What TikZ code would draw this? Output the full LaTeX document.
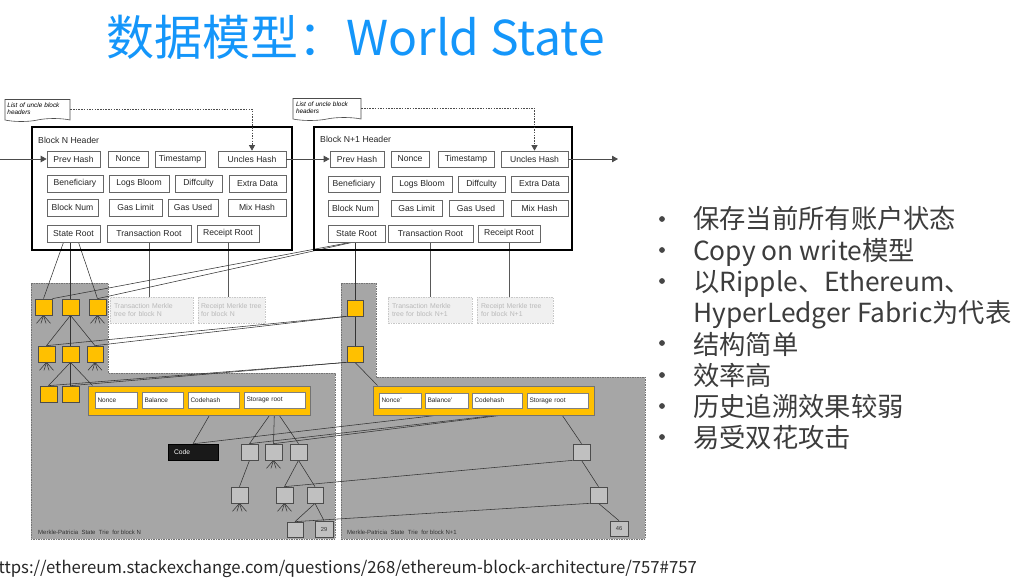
\documentclass[tikz,border=0pt]{standalone}
\usepackage{fontspec}
\setmainfont{Liberation Sans}
\newfontfamily\cjk{Noto Sans CJK SC}
\usetikzlibrary{shapes.symbols,arrows.meta,backgrounds}
\definecolor{titleblue}{RGB}{20,150,250}
\definecolor{txtgray}{RGB}{60,60,60}
\definecolor{bulgray}{RGB}{70,70,70}
\definecolor{ygold}{RGB}{255,192,0}
\definecolor{regiongray}{RGB}{166,166,166}
\definecolor{nodegray}{RGB}{192,192,192}
\definecolor{ghost}{RGB}{240,240,240}
\definecolor{ghostline}{RGB}{200,200,200}
\definecolor{ghosttxt}{RGB}{185,185,185}
\newcommand\bx[7]{\node[#1, minimum width={(#5)-(#3)}, minimum height={(#6)-(#4)}] (#2) at ({((#3)+(#5))/2},{((#4)+(#6))/2}) {#7};}
\newcommand\stubs[1]{\foreach \dx in {-7,-2.5,2.5,7}{\draw[conn] (#1.south) -- ++(\dx,8);}}
\begin{document}
\begin{tikzpicture}[x=1pt,y=-1pt,
  field/.style={draw=black!60, fill=white, line width=0.7pt, inner sep=0pt, text=black!85, font=\fontsize{8.6}{9}\selectfont},
  hdrbox/.style={draw=black, line width=1.6pt, inner sep=0pt},
  hdrlabel/.style={anchor=west, inner sep=0pt, text=black!85, font=\fontsize{8.7}{10}\selectfont},
  ynode/.style={draw=black!70, fill=ygold, line width=0.7pt, inner sep=0pt},
  gnode/.style={draw=black!70, fill=nodegray, line width=0.7pt, inner sep=0pt, text=black!80, font=\fontsize{5.8}{6}\selectfont},
  acctbox/.style={draw=black!55, fill=ygold, line width=1pt, inner sep=0pt},
  afield/.style={draw=black!50, fill=white, line width=0.6pt, inner sep=0pt, align=left, text=black!85, font=\fontsize{6.5}{7}\selectfont},
  codebox/.style={draw=black, fill=black!90, inner sep=0pt, align=left, text=white, font=\fontsize{6.7}{7}\selectfont},
  ghostbox/.style={draw=ghostline, dash pattern=on 1.5pt off 1pt, fill=ghost, inner sep=0pt, align=left, text=ghosttxt, font=\fontsize{6.9}{8.2}\selectfont},
  notebox/.style={tape, tape bend top=none, tape bend height=3pt, draw=black!70, fill=white, line width=0.6pt, inner sep=0pt, align=left, font=\itshape\fontsize{6.4}{7.4}\selectfont},
  conn/.style={draw=black!80, line width=0.55pt},
  gline/.style={draw=black!65, line width=0.8pt},
  region/.style={fill=regiongray, draw=black!55, dash pattern=on 1.5pt off 1pt, line width=0.7pt},
  arr/.style={draw=black!70, line width=0.8pt, -{Triangle[length=6pt,width=6.5pt]}},
  dline/.style={draw=black!70, line width=0.7pt, dash pattern=on 1.5pt off 1.2pt, -{Triangle[length=5.5pt,width=6pt]}},
  lbl/.style={anchor=base west, inner sep=0pt, text=black!80, font=\fontsize{6}{6}\selectfont},
  bullet/.style={anchor=base west, inner sep=0pt, text=txtgray, font={\cjk\fontsize{26.3}{30}\selectfont}}
]
\useasboundingbox (0,0) rectangle (1021,579);

% ---------- title ----------
\node[anchor=base west, inner sep=0pt, text=titleblue, font={\cjk\fontsize{48}{52}\selectfont}] (title) at (106,55) {数据模型：World State};

% ---------- state trie regions ----------
\begin{scope}[on background layer]
\draw[region] (31,283) -- (108,283) -- (108,373) -- (335,373) -- (335,539) -- (31,539) -- cycle;
\draw[region] (341,283) -- (376,283) -- (376,377) -- (645,377) -- (645,539) -- (341,539) -- cycle;
\end{scope}

% ---------- block N header ----------
\bx{hdrbox}{BN}{32}{127}{292}{250}{}
\node[hdrlabel] (HN) at (38,140) {Block N Header};
\bx{field}{PH}{47}{151}{100}{167}{Prev Hash}
\bx{field}{NO}{108}{151}{148}{167}{Nonce}
\bx{field}{TS}{155}{151}{205}{167}{Timestamp}
\bx{field}{UH}{218}{151}{286}{167}{Uncles Hash}
\bx{field}{BE}{47}{175}{103}{192}{Beneficiary}
\bx{field}{LB}{109}{175}{169}{192}{Logs Bloom}
\bx{field}{DI}{175}{175}{222}{192}{Diffculty}
\bx{field}{ED}{229}{175}{286}{192}{Extra Data}
\bx{field}{BK}{47}{199}{98}{216}{Block Num}
\bx{field}{GL}{109}{199}{162}{216}{Gas Limit}
\bx{field}{GU}{168}{199}{218}{216}{Gas Used}
\bx{field}{MH}{228}{199}{286}{216}{Mix Hash}
\bx{field}{SR}{47}{225}{100}{242}{State Root}
\bx{field}{TR}{107}{225}{191}{242}{Transaction Root}
\bx{field}{RR}{197}{225}{259}{242}{Receipt Root}

% ---------- block N+1 header ----------
\bx{hdrbox}{BM}{314}{127}{572}{250}{}
\node[hdrlabel] (HM) at (320,139) {Block N+1 Header};
\bx{field}{PH2}{330}{151}{384}{167}{Prev Hash}
\bx{field}{NO2}{391}{151}{429}{167}{Nonce}
\bx{field}{TS2}{438}{151}{494}{167}{Timestamp}
\bx{field}{UH2}{501}{151}{568}{167}{Uncles Hash}
\bx{field}{BE2}{328}{176}{380}{192}{Beneficiary}
\bx{field}{LB2}{392}{176}{452}{192}{Logs Bloom}
\bx{field}{DI2}{458}{176}{505}{192}{Diffculty}
\bx{field}{ED2}{511}{176}{568}{192}{Extra Data}
\bx{field}{BK2}{328}{200}{378}{216}{Block Num}
\bx{field}{GL2}{391}{200}{442}{216}{Gas Limit}
\bx{field}{GU2}{449}{200}{503}{216}{Gas Used}
\bx{field}{MH2}{511}{200}{568}{216}{Mix Hash}
\bx{field}{SR2}{328}{225}{385}{242}{State Root}
\bx{field}{TR2}{388}{225}{473}{242}{Transaction Root}
\bx{field}{RR2}{478}{225}{540}{242}{Receipt Root}

% ---------- uncle notes ----------
\bx{notebox, text width=60pt}{UN1}{5}{98}{70}{120}{List of uncle block\\headers}
\bx{notebox, text width=62pt}{UN2}{293}{97}{361}{119}{List of uncle block\\headers}

% ---------- header arrows ----------
\coordinate (in) at (0,159);
\coordinate (out) at (618,159);
\draw[arr] (in) -- (PH.west);
\draw[arr] (UH.east) -- (PH2.west);
\draw[arr] (UH2.east) -- (out);
\draw[dline] (UN1.east) -| (UH.north);
\draw[dline] (UN2.east) -| (UH2.north);

% ---------- ghost merkle trees ----------
\bx{ghostbox, text width=75pt}{TT}{110}{297}{193}{323}{Transaction Merkle\\tree for block N}
\bx{ghostbox, text width=61pt}{RT}{198}{297}{265}{323}{Receipt Merkle tree\\for block N}
\bx{ghostbox, text width=76pt}{TT2}{388}{297}{472}{323}{Transaction Merkle\\tree for block N+1}
\bx{ghostbox, text width=68pt}{RT2}{477}{297}{553}{323}{Receipt Merkle tree\\for block N+1}

% ---------- state trie N ----------
\bx{ynode}{A1}{35}{299}{52}{315}{}
\bx{ynode}{A2}{62}{299}{79}{315}{}
\bx{ynode}{A3}{89}{299}{106}{315}{}
\bx{ynode}{B1}{38}{346}{55}{362}{}
\bx{ynode}{B2}{62}{346}{79}{362}{}
\bx{ynode}{B3}{87}{346}{103}{362}{}
\bx{ynode}{C1}{40}{386}{57}{402}{}
\bx{ynode}{C2}{62}{386}{79}{402}{}
\bx{acctbox}{AC}{88}{386}{310}{415}{}
\bx{afield, text width=37pt}{AN}{95}{392}{137}{408}{Nonce}
\bx{afield, text width=36pt}{AB}{142}{392}{183}{408}{Balance}
\bx{afield, text width=46pt}{ACH}{188}{392}{239}{408}{Codehash}
\bx{afield, text width=56pt}{ASR}{244}{392}{305}{408}{Storage root}
\bx{codebox, text width=38pt}{CODE}{168}{444}{218}{460}{Code}
\bx{gnode}{S1}{241}{444}{258}{460}{}
\bx{gnode}{S2}{265}{444}{282}{460}{}
\bx{gnode}{S3}{290}{444}{307}{460}{}
\bx{gnode}{S4}{231}{487}{248}{503}{}
\bx{gnode}{S5}{276}{487}{293}{503}{}
\bx{gnode}{S6}{307}{487}{323}{503}{}
\bx{gnode}{S7}{287}{522}{303}{537}{}
\bx{gnode}{N29}{315}{521}{333}{537}{29}
\node[lbl] (LN) at (38,534) {Merkle-Patricia\ \ State\ \ Trie\ \ for block N};

% ---------- state trie N+1 ----------
\bx{ynode}{R1}{347}{300}{363}{316}{}
\bx{ynode}{R2}{347}{346}{363}{362}{}
\bx{acctbox}{AC2}{373}{386}{594}{415}{}
\bx{afield, text width=37pt}{AN2}{379}{393}{421}{408}{Nonce'}
\bx{afield, text width=38pt}{AB2}{425}{393}{468}{408}{Balance'}
\bx{afield, text width=45pt}{ACH2}{472}{393}{522}{408}{Codehash}
\bx{afield, text width=56pt}{ASR2}{527}{393}{588}{408}{Storage root}
\bx{gnode}{RS1}{573}{444}{590}{460}{}
\bx{gnode}{RS2}{590}{487}{607}{503}{}
\bx{gnode}{N46}{610}{521}{628}{536}{46}
\node[lbl] (LM) at (347,534) {Merkle-Patricia\ \ State\ \ Trie\ \ for block N+1};

% ---------- connectors ----------
\begin{scope}[on background layer]
\draw[gline] (TR.south) -- (TR.south |- TT.north);
\draw[gline] (RR.south) -- (RR.south |- RT.north);
\draw[gline] (TR2.south) -- (TR2.south |- TT2.north);
\draw[gline] (RR2.south) -- (RR2.south |- RT2.north);
% trie N
\draw[conn] ([xshift=-10pt]SR.south) -- (A1.north);
\draw[conn] ([xshift=-3pt]SR.south) -- (A2.north);
\draw[conn] ([xshift=5pt]SR.south) -- (A3.north);
\draw[conn] (A2.south) -- (B1.north);
\draw[conn] (A2.south) -- (B2.north);
\draw[conn] (A2.south) -- (B3.north);
\draw[conn] (B2.south) -- (C1.north);
\draw[conn] (B2.south) -- (C2.north);
\draw[conn] (B2.south) -- ([xshift=5pt]AC.north west);
\stubs{A1}
\stubs{A3}
\stubs{B1}
\stubs{B3}
\draw[conn] (ACH.south) -- (CODE.north);
\draw[conn] (ASR.south) -- (S1.north);
\draw[conn] (ASR.south) -- (S2.north);
\draw[conn] (ASR.south) -- (S3.north);
\draw[conn] (S1.south) -- (S4.north);
\draw[conn] (S3.south) -- (S5.north);
\draw[conn] (S3.south) -- (S6.north);
\draw[conn] (S6.south) -- (S7.north);
\draw[conn] (S6.south) -- (N29.north);
\stubs{S2}
\stubs{S4}
\stubs{S5}
% trie N+1
\draw[conn] ([xshift=-1.5pt]SR2.south) -- (R1.north);
\draw[conn] ([xshift=-6pt]SR2.south) -- (A1.north east);
\draw[conn] ([xshift=-4pt]SR2.south) -- (A3.north);
\draw[conn] (R1.south) -- (R2.north);
\draw[conn] (R1.south west) -- (B1.north);
\draw[conn] (R1.south west) -- (B3.north);
\draw[conn] (R2.south west) -- (C1.north);
\draw[conn] (R2.south west) -- (C2.north);
\draw[conn] (R2.south) -- ([xshift=5pt]AC2.north west);
\draw[conn] (ACH2.south) -- (CODE.north);
\draw[conn] (ASR2.south) -- (S1.north);
\draw[conn] (ASR2.south) -- (S2.north);
\draw[conn] (ASR2.south) -- (RS1.north);
\draw[conn] (RS1.south) -- (RS2.north);
\draw[conn] (RS1.south west) -- (S5.north);
\draw[conn] (RS2.south) -- (N46.north);
\draw[conn] (RS2.south west) -- (S7.north);
\end{scope}

% ---------- bullets ----------
\foreach \yy in {219,250,281,343,375,406,437} \fill[bulgray] (662,\yy) circle (2.9);
\node[bullet] (t1) at (693,228) {保存当前所有账户状态};
\node[bullet] (t2) at (693,260) {Copy on write模型};
\node[bullet] (t3) at (693,291) {以Ripple、Ethereum、};
\node[bullet] (t4) at (693,322) {HyperLedger Fabric为代表};
\node[bullet] (t5) at (693,354) {结构简单};
\node[bullet] (t6) at (693,385) {效率高};
\node[bullet] (t7) at (693,416) {历史追溯效果较弱};
\node[bullet] (t8) at (693,447) {易受双花攻击};

% ---------- source url ----------
\node[anchor=base east, inner sep=0pt, text=black!85, font={\cjk\fontsize{16.7}{20}\selectfont}] (url) at (697,573) {https://ethereum.stackexchange.com/questions/268/ethereum-block-architecture/757\#757};
\end{tikzpicture}
\end{document}
